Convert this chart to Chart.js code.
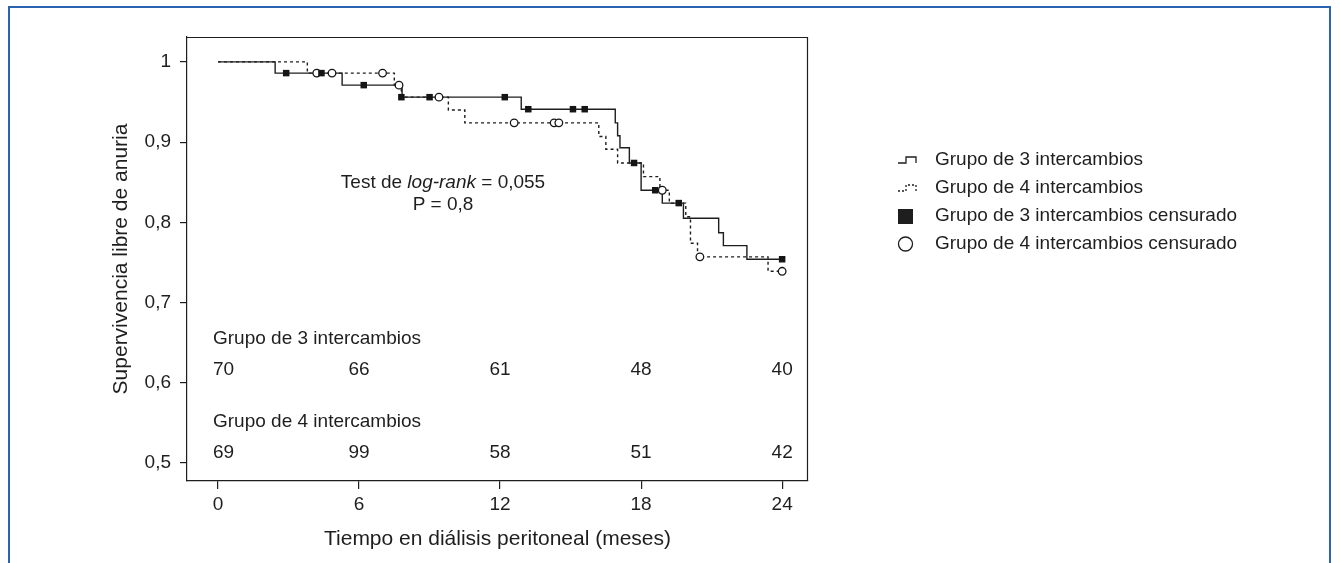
<!DOCTYPE html>
<html>
<head>
<meta charset="utf-8">
<script src="https://cdn.jsdelivr.net/npm/chart.js@4/dist/chart.umd.min.js"></script>
<style>
html, body { margin: 0; padding: 0; background: #fff; }
#wrap { position: relative; width: 1340px; height: 563px; overflow: hidden; }
#frame { position: absolute; left: 8px; top: 6px; width: 1323px; height: 620px; border: 2px solid #2a63b2; box-sizing: border-box; }
canvas { position: absolute; left: 0; top: 0; }
</style>
</head>
<body>
<div id="wrap">
  <div id="frame"></div>
  <canvas id="km" width="1340" height="563"></canvas>
</div>
<script>
// Kaplan-Meier steps, grupo de 3 intercambios (meses / supervivencia)
var t3 = [0, 2.43, 5.28, 7.83, 12.9, 16.9, 17.0, 17.1, 17.5, 18.0, 18.9, 19.8, 21.3, 21.5, 22.5, 24];
var s3 = [1, 0.986, 0.971, 0.956, 0.941, 0.924, 0.908, 0.893, 0.874, 0.840, 0.824, 0.805, 0.787, 0.771, 0.754, 0.754];

// grupo de 4 intercambios
var t4 = [0, 3.8, 7.5, 7.8, 9.8, 10.5, 16.2, 16.5, 17.0, 18.1, 18.8, 19.2, 19.9, 20.1, 20.4, 23.4, 24];
var s4 = [1, 0.986, 0.971, 0.956, 0.940, 0.924, 0.907, 0.891, 0.874, 0.857, 0.840, 0.824, 0.807, 0.774, 0.757, 0.739, 0.739];

// censored observations
var c3t = [2.9, 4.4, 6.2, 7.8, 9.0, 12.2, 13.2, 15.1, 15.6, 17.7, 18.6, 19.6, 24];
var c3s = [0.986, 0.986, 0.971, 0.956, 0.956, 0.956, 0.941, 0.941, 0.941, 0.874, 0.840, 0.824, 0.754];
var c4t = [4.2, 4.85, 7.0, 7.7, 9.4, 12.6, 14.3, 14.5, 18.9, 20.5, 24];
var c4s = [0.986, 0.986, 0.986, 0.971, 0.956, 0.924, 0.924, 0.924, 0.840, 0.757, 0.739];

// pacientes en riesgo
var riskTimes = [0, 6, 12, 18, 24];
var risk3 = [70, 66, 61, 48, 40];
var risk4 = [69, 99, 58, 51, 42];

var xTicks = [0, 6, 12, 18, 24];
var yTicks = [0.5, 0.6, 0.7, 0.8, 0.9, 1];

var legendLabels = ['Grupo de 3 intercambios', 'Grupo de 4 intercambios',
  'Grupo de 3 intercambios censurado', 'Grupo de 4 intercambios censurado'];

function pts(xs, ys) {
  return xs.map(function(x, i) { return {x: x, y: ys[i]}; });
}

var FONT = '"Liberation Sans", Arial, Helvetica, sans-serif';
var INK = '#1e1e1e';

var extras = {
  id: 'extras',
  afterDraw: function(chart) {
    var ctx = chart.ctx;
    var a = chart.chartArea;
    var xs = chart.scales.x;
    ctx.save();
    // top and right side of the box
    ctx.strokeStyle = INK;
    ctx.lineWidth = 1.2;
    ctx.beginPath();
    ctx.moveTo(a.left, a.top + 0.5);
    ctx.lineTo(a.right - 0.5, a.top + 0.5);
    ctx.lineTo(a.right - 0.5, a.bottom);
    ctx.stroke();

    ctx.fillStyle = INK;
    ctx.textBaseline = 'middle';

    // log-rank text
    ctx.textAlign = 'left';
    var p1 = 'Test de ', p2 = 'log-rank', p3 = ' = 0,055';
    ctx.font = '19px ' + FONT;
    var w1 = ctx.measureText(p1).width, w3 = ctx.measureText(p3).width;
    ctx.font = 'italic 19px ' + FONT;
    var w2 = ctx.measureText(p2).width;
    var cx = 443, x0 = cx - (w1 + w2 + w3) / 2, ty = 183;
    ctx.font = '19px ' + FONT;
    ctx.fillText(p1, x0, ty);
    ctx.font = 'italic 19px ' + FONT;
    ctx.fillText(p2, x0 + w1, ty);
    ctx.font = '19px ' + FONT;
    ctx.fillText(p3, x0 + w1 + w2, ty);
    ctx.textAlign = 'center';
    ctx.fillText('P = 0,8', cx, ty + 22);

    // numbers at risk
    ctx.textAlign = 'left';
    ctx.fillText(legendLabels[0], 213, 339);
    ctx.fillText(legendLabels[1], 213, 422);
    riskTimes.forEach(function(t, i) {
      var px = xs.getPixelForValue(t);
      var a3 = String(risk3[i]), a4 = String(risk4[i]);
      var l3 = Math.max(213, px - ctx.measureText(a3).width / 2);
      var l4 = Math.max(213, px - ctx.measureText(a4).width / 2);
      ctx.fillText(a3, l3, 370);
      ctx.fillText(a4, l4, 453);
    });

    // axis titles
    ctx.textAlign = 'center';
    ctx.font = '21px ' + FONT;
    ctx.fillText('Tiempo en diálisis peritoneal (meses)', (a.left + a.right) / 2, 539);
    ctx.save();
    ctx.translate(121, (a.top + a.bottom) / 2);
    ctx.rotate(-Math.PI / 2);
    ctx.fillText('Supervivencia libre de anuria', 0, 0);
    ctx.restore();

    // legend
    var lx = 898, rows = [160, 188, 216, 244];
    ctx.lineWidth = 1.3;
    ctx.strokeStyle = INK;
    ctx.beginPath();
    ctx.moveTo(lx, rows[0] + 3); ctx.lineTo(lx + 8, rows[0] + 3);
    ctx.lineTo(lx + 8, rows[0] - 3); ctx.lineTo(lx + 18, rows[0] - 3);
    ctx.lineTo(lx + 18, rows[0] + 3);
    ctx.stroke();
    ctx.setLineDash([2, 2]);
    ctx.beginPath();
    ctx.moveTo(lx, rows[1] + 3); ctx.lineTo(lx + 8, rows[1] + 3);
    ctx.lineTo(lx + 8, rows[1] - 3); ctx.lineTo(lx + 18, rows[1] - 3);
    ctx.lineTo(lx + 18, rows[1] + 3);
    ctx.stroke();
    ctx.setLineDash([]);
    ctx.fillRect(lx, rows[2] - 7, 15, 15);
    ctx.beginPath();
    ctx.arc(lx + 7.5, rows[3], 7, 0, Math.PI * 2);
    ctx.stroke();
    ctx.font = '19px ' + FONT;
    ctx.textAlign = 'left';
    legendLabels.forEach(function(l, i) { ctx.fillText(l, 935, rows[i]); });
    ctx.restore();
  }
};

new Chart(document.getElementById('km'), {
  type: 'line',
  data: {
    datasets: [{
      label: 'cens3',
      type: 'scatter',
      data: pts(c3t, c3s),
      pointStyle: 'rect',
      pointRadius: 4.6,
      backgroundColor: '#151515',
      borderColor: '#151515',
      borderWidth: 0,
      order: 1
    }, {
      label: 'cens4',
      type: 'scatter',
      data: pts(c4t, c4s),
      pointStyle: 'circle',
      pointRadius: 3.8,
      backgroundColor: '#fff',
      borderColor: '#151515',
      borderWidth: 1.3,
      order: 1
    }, {
      label: legendLabels[0],
      data: pts(t3, s3),
      stepped: true,
      borderColor: INK,
      borderWidth: 1.4,
      pointRadius: 0,
      fill: false,
      order: 2
    }, {
      label: legendLabels[1],
      data: pts(t4, s4),
      stepped: true,
      borderColor: INK,
      borderWidth: 1.4,
      borderDash: [3, 3],
      pointRadius: 0,
      fill: false,
      order: 2
    }]
  },
  options: {
    responsive: false,
    animation: false,
    layout: { padding: { left: 0, top: 37, right: 532, bottom: 0 } },
    plugins: { legend: { display: false }, tooltip: { enabled: false } },
    scales: {
      x: {
        type: 'linear',
        min: -1.32,
        max: 25.1,
        afterFit: function(s) { s.height = 82; },
        afterBuildTicks: function(s) { s.ticks = xTicks.map(function(v) { return {value: v}; }); },
        grid: { drawOnChartArea: false, tickLength: 8, color: INK, lineWidth: 1.2 },
        border: { display: true, color: INK, width: 1.2 },
        ticks: { color: INK, font: { size: 19, family: FONT }, padding: 4, maxRotation: 0 }
      },
      y: {
        type: 'linear',
        min: 0.4776,
        max: 1.031,
        afterFit: function(s) { s.width = 187; },
        afterBuildTicks: function(s) { s.ticks = yTicks.map(function(v) { return {value: v}; }); },
        grid: { drawOnChartArea: false, tickLength: 7, color: INK, lineWidth: 1.2 },
        border: { display: true, color: INK, width: 1.2 },
        ticks: {
          color: INK,
          font: { size: 19, family: FONT },
          padding: 9,
          callback: function(v) { return v === 1 ? '1' : v.toFixed(1).replace('.', ','); }
        }
      }
    }
  },
  plugins: [extras]
});
</script>
</body>
</html>
